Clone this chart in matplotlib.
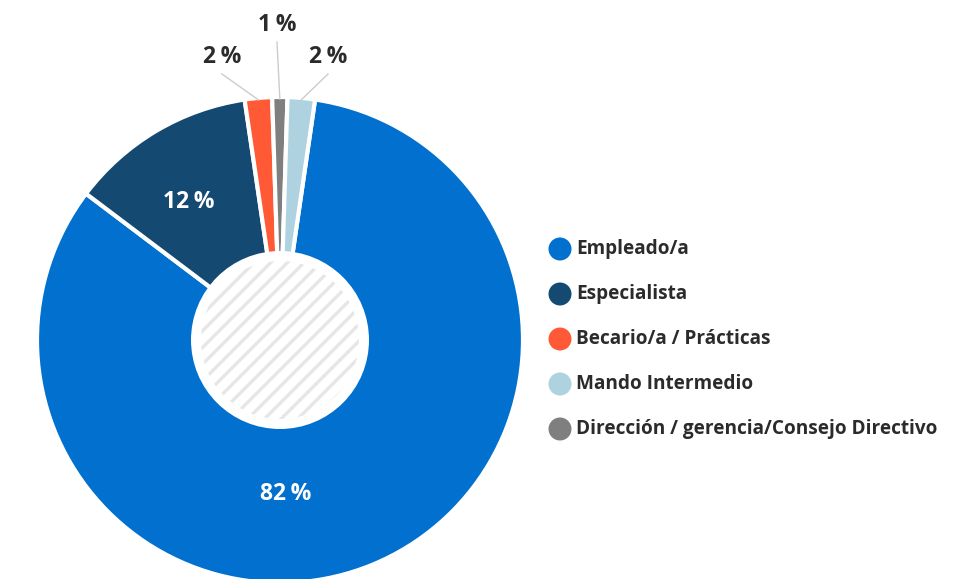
#!/usr/bin/env python3

import numpy as np
import matplotlib.pyplot as plt
from matplotlib.patches import Circle

plt.rcParams['font.family'] = ['Open Sans', 'DejaVu Sans']

# Data (legend order)
labels = ['Empleado/a', 'Especialista', 'Becario/a / Prácticas',
          'Mando Intermedio', 'Dirección / gerencia/Consejo Directivo']
values = [82.4, 12.3, 1.8, 1.8, 1.0]
pct_text = ['82\u2009%', '12\u2009%', '2\u2009%', '2\u2009%', '1\u2009%']
colors = ['#0170cf', '#144a72', '#ff5a35', '#aed2e0', '#7f7f7f']

# clockwise order round the ring
ring_order = [0, 1, 2, 4, 3]

W, H = 967, 579
fig = plt.figure(figsize=(W / 100, H / 100), dpi=100)
ax = fig.add_axes([0, 0, 1, 1])

cx, cy, R = 280, H - 340, 243
wedges, _ = ax.pie([values[i] for i in ring_order],
                   colors=[colors[i] for i in ring_order],
                   center=(cx, cy), radius=R, startangle=81.7,
                   counterclock=False,
                   wedgeprops=dict(edgecolor='white', linewidth=3))

# hatched centre
ax.add_patch(Circle((cx, cy), 89, facecolor='white', edgecolor='none', zorder=3))
plt.rcParams['hatch.linewidth'] = 2.4
ax.add_patch(Circle((cx, cy), 79, facecolor='white', edgecolor='#e6e6e6',
                    hatch='//', linewidth=0, zorder=4))

# percentage labels (pixel positions of the text, leader from wedge edge)
label_pos = {0: (286, 494), 1: (189, 202), 2: (222, 57), 4: (277, 25), 3: (328, 57)}
for k, w in zip(ring_order, wedges):
    tx, ty = label_pos[k]
    ty = H - ty
    if k in (0, 1):
        ax.text(tx, ty, pct_text[k], color='white', fontsize=16.5, fontweight='bold',
                ha='center', va='center', zorder=5)
    else:
        mid = np.deg2rad((w.theta1 + w.theta2) / 2)
        ex, ey = cx + (R - 2) * np.cos(mid), cy + (R - 2) * np.sin(mid)
        ax.plot([ex, tx], [ey, ty - 17], color='#cccccc', lw=1, zorder=1)
        ax.text(tx, ty, pct_text[k], color='#2b2b2b', fontsize=16.5, fontweight='bold',
                ha='center', va='center', zorder=5)

# legend
for i, lab in enumerate(labels):
    ly = H - (249 + 45 * i)
    ax.add_patch(Circle((560, ly), 11.5, facecolor=colors[i], edgecolor='none'))
    ax.text(576, ly, lab, color='#2b2b2b', fontsize=13.7, fontweight='bold',
            ha='left', va='center')

# source note (cut off at the bottom)
ax.text(793, -8, 'Datos:', color='#2b2b2b', fontsize=12, fontweight='bold',
        ha='left', va='center')
ax.text(850, -8, 'InfoJobs', color='#2b2b2b', fontsize=12,
        ha='left', va='center')

ax.set_xlim(0, W)
ax.set_ylim(0, H)
ax.set_aspect('equal')
ax.axis('off')

plt.savefig('out.png', dpi=100)
